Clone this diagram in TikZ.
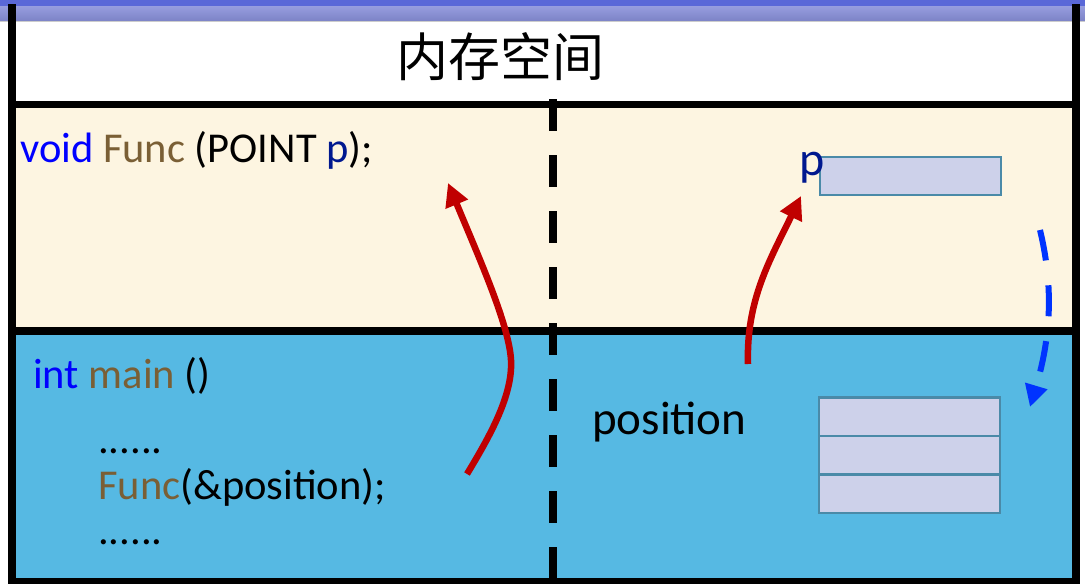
\documentclass[tikz,border=0pt]{standalone}
\usepackage{fontspec}
\setmainfont{Carlito}
\newfontfamily\cjk{Noto Sans CJK SC}
\usetikzlibrary{arrows.meta}
\definecolor{bandtop}{HTML}{5A68D8}
\definecolor{bandA}{HTML}{979DDF}
\definecolor{bandB}{HTML}{7C83C6}
\definecolor{cream}{HTML}{FDF5E1}
\definecolor{skyblue}{HTML}{56B9E3}
\definecolor{cellfill}{HTML}{CDD1EA}
\definecolor{celledge}{HTML}{4A8AA8}
\definecolor{kwblue}{HTML}{0000FF}
\definecolor{fnbrown}{HTML}{7A5F35}
\definecolor{navy}{HTML}{00188F}
\definecolor{arrred}{HTML}{C00000}
\definecolor{arrblue}{HTML}{0033FF}
\tikzset{
  frameline/.style={line width=8pt, black},
  codetext/.style={anchor=base west, inner sep=0pt, font=\fontsize{42.5}{50}\selectfont},
  cell/.style={rectangle, draw=celledge, fill=cellfill, line width=2.5pt, minimum width=181pt, inner sep=0pt},
  redarrow/.style={draw=arrred, line width=6.5pt, -{Triangle[length=23pt,width=23pt]}},
  bluearrow/.style={draw=arrblue, line width=6pt, dash pattern=on 31pt off 25pt, -{Triangle[length=22pt,width=22pt]}}
}
\begin{document}
\begin{tikzpicture}[x=1pt,y=-1pt]
\useasboundingbox (0,0) rectangle (1085,584);
\fill[white] (0,0) rectangle (1085,584);
% top band
\shade[top color=bandA, bottom color=bandB] (0,6) rectangle (1085,21);
\fill[bandtop] (0,0) rectangle (1085,6);
\draw[gray!40, line width=0.8pt] (0,21.4) -- (1085,21.4);
% panels
\fill[cream] (16,108) rectangle (1072,327);
\fill[skyblue] (16,335) rectangle (1072,578);
% frame
\draw[line width=7.5pt] (8,104.5) -- (1080,104.5);
\draw[frameline] (8,331) -- (1080,331);
\draw[line width=7pt] (8,581) -- (1080,581);
\draw[frameline] (12,4) -- (12,584);
\draw[frameline] (1076,4) -- (1076,584);
\draw[line width=8pt, dash pattern=on 32pt off 24pt] (553,99) -- (553,579);
% title
\node[anchor=base, inner sep=0pt, font=\cjk\fontsize{52}{60}\selectfont] (title) at (500,76) {内存空间};
% code text
\node[codetext] (decl) at (20,162) {\textcolor{kwblue}{void} \textcolor{fnbrown}{Func} (POINT \textcolor{navy}{p});};
\node[codetext] (mainl) at (33,388) {\textcolor{kwblue}{int} \textcolor{fnbrown}{main} ()};
\node[codetext] (dots1) at (98,453) {......};
\node[codetext] (call) at (98,499) {\textcolor{fnbrown}{Func}(\&position);};
\node[codetext] (dots2) at (98,544) {......};
\node[anchor=base west, inner sep=0pt, font=\fontsize{47}{54}\selectfont] (pos) at (592,434) {position};
% memory cells
\node[cell, minimum height=38pt] (pbox) at (910.5,176) {};
\node[cell, minimum height=38.5pt] (c1) at (909.5,416.5) {};
\node[cell, minimum height=38.5pt] (c2) at (909.5,455) {};
\node[cell, minimum height=38.5pt] (c3) at (909.5,493.5) {};
\node[anchor=base west, inner sep=0pt, font=\fontsize{48}{54}\selectfont, text=navy] (plabel) at (799,175) {p};
% arrows
\coordinate (r1s) at (467,474);
\coordinate (r1m) at (511,360);
\coordinate (r1e) at (448,183);
\coordinate (r2s) at (748,364);
\coordinate (r2e) at (801,196);
\coordinate (bs) at (1040,230);
\coordinate (be) at (1030,407);
\draw[redarrow] (r1s) .. controls (490,436) and (513,395) .. (r1m) .. controls (509,325) and (480,260) .. (r1e);
\draw[redarrow] (r2s) .. controls (746,300) and (770,260) .. (r2e);
\draw[bluearrow] (bs) .. controls (1052,280) and (1053,330) .. (be);
\end{tikzpicture}
\end{document}
